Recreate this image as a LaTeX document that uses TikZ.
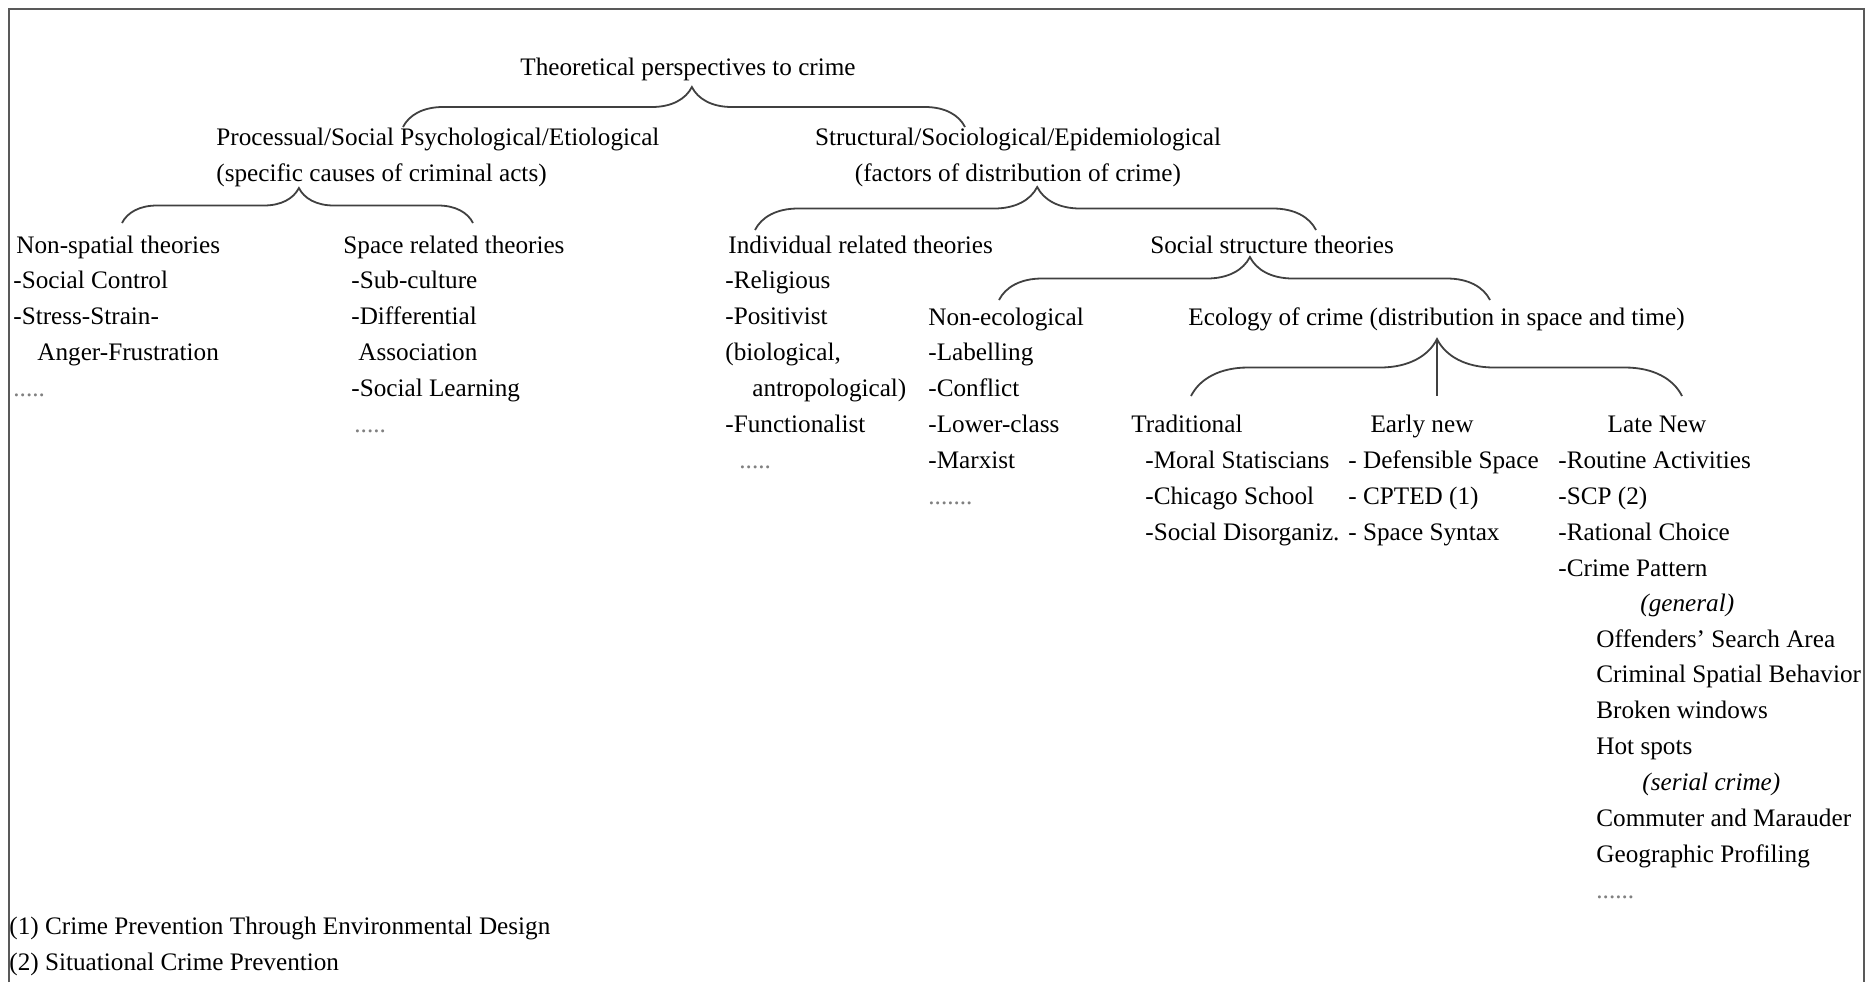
\documentclass[tikz,border=0pt]{standalone}
\usepackage{fontspec}
\setmainfont{Liberation Serif}
\usetikzlibrary{decorations.pathreplacing}

\begin{document}
\begin{tikzpicture}[
  x=0.5pt, y=-0.5pt,
  font=\fontsize{12.6}{17.925}\selectfont,
  txt/.style={inner sep=0pt, anchor=base west, align=left},
  head/.style={inner sep=0pt, anchor=base},
  brc/.style={decorate, decoration={brace, amplitude=#1}, draw=black!75, line width=0.9pt},
  frame/.style={draw=black!65, line width=1.2pt}
]
\useasboundingbox (0,0) rectangle (1872,982);
\draw[frame] (9,982) |- (1864,9) -- (1864,982);

% ===== top levels (multi-line nodes sit on their last line) =====
\node[head] (title) at (688,75) {Theoretical perspectives to crime};
\node[txt] (proc) at (216,181) {Processual/Social Psychological/Etiological\\(specific causes of criminal acts)};
\node[head, align=center] (struc) at (1018,181) {Structural/Sociological/Epidemiological\\(factors of distribution of crime)};

% ===== processual side =====
\node[txt] (nonsp) at (16,253) {Non-spatial theories};
\node[txt] (nonsplist) at (13,396) {-Social Control\\-Stress-Strain-\\\hspace*{12pt}Anger-Frustration\\{\color{black!50}.....}};
\node[txt] (space) at (343,253) {Space related theories};
\node[txt] (spacelist) at (351,432) {-Sub-culture\\-Differential\\\hspace*{3.5pt}Association\\-Social Learning\\\hspace*{1.5pt}{\color{black!50}.....}};

% ===== structural side =====
\node[txt] (indiv) at (728,253) {Individual related theories};
\node[txt] (indivlist) at (725,468) {-Religious\\-Positivist\\(biological,\\\hspace*{13.5pt}antropological)\\-Functionalist\\\hspace*{7pt}{\color{black!50}.....}};
\node[head] (social) at (1272,253) {Social structure theories};
\node[txt] (nonecol) at (928,325) {Non-ecological};
\node[txt] (nonecollist) at (928,504) {-Labelling\\-Conflict\\-Lower-class\\-Marxist\\{\color{black!50}.......}};
\node[txt] (ecol) at (1188,325) {Ecology of crime (distribution in space and time)};

% ===== ecology of crime =====
\node[txt] (trad) at (1131,432) {Traditional};
\node[txt] (tradlist) at (1145,540) {-Moral Statiscians\\-Chicago School\\-Social Disorganiz.};
\node[head] (early) at (1422,432) {Early new};
\node[txt] (earlylist) at (1348,540) {- Defensible Space\\- CPTED (1)\\- Space Syntax};
\node[head] (late) at (1657,432) {Late New};
\node[txt] (latelist) at (1558,576) {-Routine Activities\\-SCP (2)\\-Rational Choice\\-Crime Pattern};
\node[txt] (pattern) at (1596,898) {\hspace*{22pt}\textit{(general)}\\Offenders’ Search Area\\Criminal Spatial Behavior\\Broken windows\\Hot spots\\\hspace*{23pt}\textit{(serial crime)}\\Commuter and Marauder\\Geographic Profiling\\{\color{black!50}......}};

% footnotes
\node[txt] (notes) at (9,970) {(1) Crime Prevention Through Environmental Design\\(2) Situational Crime Prevention};

% ===== braces =====
\coordinate (aL) at (403,127);  \coordinate (aR) at (965,127);
\coordinate (bL) at (122,223);  \coordinate (bR) at (473,223);
\coordinate (cL) at (755,230);  \coordinate (cR) at (1316,230);
\coordinate (dL) at (999,300);  \coordinate (dR) at (1490,300);
\coordinate (eL) at (1191,396); \coordinate (eR) at (1682,396);
\coordinate (eTip) at (1437,339);

\draw[brc=20pt, decoration={aspect=0.514}] (aL) -- (aR);
\draw[brc=17.5pt, decoration={aspect=0.504}] (bL) -- (bR);
\draw[brc=21.5pt, decoration={aspect=0.503}] (cL) -- (cR);
\draw[brc=21.5pt, decoration={aspect=0.511}] (dL) -- (dR);
\draw[brc=28.5pt, decoration={aspect=0.501}] (eL) -- (eR);
\draw[draw=black!75, line width=0.9pt] (eTip) -- (eTip |- eL);

\end{tikzpicture}
\end{document}
